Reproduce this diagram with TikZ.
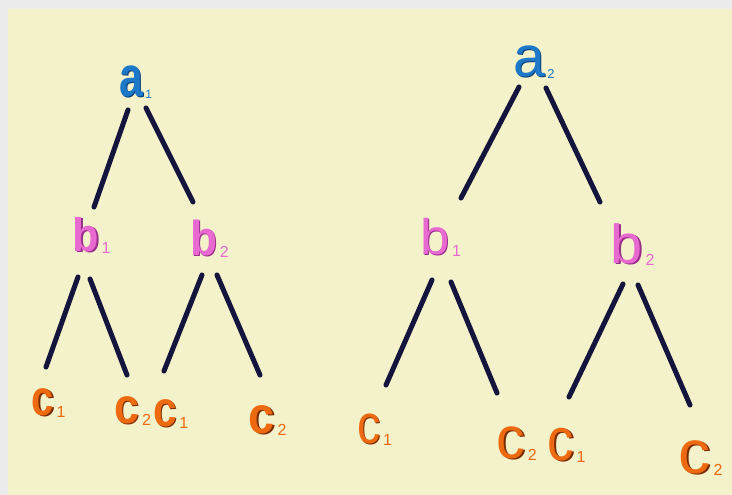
\documentclass[tikz,border=0pt]{standalone}
\usepackage{fontspec}
\setmainfont{Liberation Sans}
\usetikzlibrary{calc}
\definecolor{bgcream}{HTML}{F3F2CA}
\definecolor{bggray}{HTML}{ECECEC}
\definecolor{edgecol}{HTML}{14143C}
\definecolor{ablue}{HTML}{1E78C8}
\definecolor{ashadow}{HTML}{0B3F7A}
\definecolor{bpink}{HTML}{E86AD0}
\definecolor{bshadow}{HTML}{9A2C8A}
\definecolor{corange}{HTML}{EE6A10}
\definecolor{cshadow}{HTML}{7A2C05}
% #1 main colour, #2 shadow colour, #3 size, #4 xscale, #5 letter, #6 subscript, #7 subscript size
\newcommand{\treeglyph}[7]{%
  \fontsize{#3}{#3}\selectfont
  \scalebox{#4}[1]{\rlap{\kern1.5pt\raisebox{-1pt}{\color{#2}#5}}\color{#1}#5}%
  \rlap{\kern2.5pt\raisebox{-2pt}{\fontsize{#7}{#7}\selectfont\mdseries\color{#1}#6}}}
\tikzset{
  lbl/.style={inner sep=0pt, outer sep=0pt, anchor=center},
  boldlbl/.style={lbl, font=\bfseries},
  edge/.style={draw=edgecol, line width=5pt, line cap=round},
}
\begin{document}
\begin{tikzpicture}[x=1pt,y=-1pt]
\useasboundingbox (0,0) rectangle (732,495);
\fill[bggray] (0,0) rectangle (732,495);
\fill[bgcream] (8,9) rectangle (732,495);

% ---------- left tree ----------
\node[boldlbl] (a1)  at (131,82)  {\treeglyph{ablue}{ashadow}{57}{0.75}{a}{1}{12}};
\node[boldlbl] (lb1) at (86,235)  {\treeglyph{bpink}{bshadow}{47}{0.92}{b}{1}{16}};
\node[boldlbl] (lb2) at (204,239) {\treeglyph{bpink}{bshadow}{49}{0.9}{b}{2}{16}};
\node[boldlbl] (lc11) at (43,403)  {\treeglyph{corange}{cshadow}{50}{0.8}{c}{1}{16}};
\node[boldlbl] (lc12) at (127,411) {\treeglyph{corange}{cshadow}{50}{0.9}{c}{2}{16}};
\node[boldlbl] (lc21) at (165,414) {\treeglyph{corange}{cshadow}{50}{0.85}{c}{1}{16}};
\node[boldlbl] (lc22) at (262,421) {\treeglyph{corange}{cshadow}{52}{0.9}{c}{2}{16}};

\draw[edge] ($(a1)+(-3,28)$) -- ($(lb1)+(8,-28)$);
\draw[edge] ($(a1)+(15,26)$) -- ($(lb2)+(-11,-37)$);
\draw[edge] ($(lb1)+(-8,42)$) -- ($(lc11)+(3,-36)$);
\draw[edge] ($(lb1)+(4,44)$) -- ($(lc12)+(0,-36)$);
\draw[edge] ($(lb2)+(-2,36)$) -- ($(lc21)+(-1,-43)$);
\draw[edge] ($(lb2)+(13,36)$) -- ($(lc22)+(-2,-46)$);

% ---------- right tree ----------
\node[lbl] (a2)  at (529,62)  {\treeglyph{ablue}{ashadow}{57}{1.0}{a}{2}{13}};
\node[lbl] (rb1) at (435,237) {\treeglyph{bpink}{bshadow}{50}{1.05}{b}{1}{16}};
\node[lbl] (rb2) at (627,245) {\treeglyph{bpink}{bshadow}{55}{1.05}{b}{2}{16}};
\node[lbl] (rc11) at (369,430) {\treeglyph{corange}{cshadow}{55}{0.85}{c}{1}{16}};
\node[lbl] (rc12) at (511,444) {\treeglyph{corange}{cshadow}{59}{0.97}{c}{2}{16}};
\node[lbl] (rc21) at (561,445) {\treeglyph{corange}{cshadow}{60}{0.88}{c}{1}{16}};
\node[lbl] (rc22) at (695,458) {\treeglyph{corange}{cshadow}{61}{1.05}{c}{2}{16}};

\draw[edge] ($(a2)+(-10,25)$) -- ($(rb1)+(26,-39)$);
\draw[edge] ($(a2)+(17,26)$) -- ($(rb2)+(-27,-43)$);
\draw[edge] ($(rb1)+(-3,43)$) -- ($(rc11)+(17,-45)$);
\draw[edge] ($(rb1)+(16,45)$) -- ($(rc12)+(-14,-51)$);
\draw[edge] ($(rb2)+(-4,39)$) -- ($(rc21)+(8,-48)$);
\draw[edge] ($(rb2)+(11,40)$) -- ($(rc22)+(-5,-53)$);
\end{tikzpicture}
\end{document}
